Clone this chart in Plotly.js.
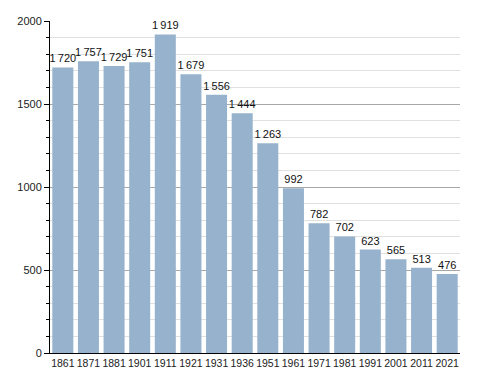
<!DOCTYPE html>
<html>
<head>
<meta charset="utf-8">
<script src="https://cdn.plot.ly/plotly-3.0.1.min.js"></script>
<style>
html,body{margin:0;padding:0;background:#fff;}
#chart{width:488px;height:373px;}
</style>
</head>
<body>
<div id="chart"></div>
<script>
const years = ['1861','1871','1881','1901','1911','1921','1931','1936','1951','1961','1971','1981','1991','2001','2011','2021'];
const population = [1720,1757,1729,1751,1919,1679,1556,1444,1263,992,782,702,623,565,513,476];

function fmt(v){
  const s = String(v);
  return s.length > 3 ? s.slice(0, s.length-3) + '\u2009' + s.slice(-3) : s;
}

const trace = {
  type: 'bar',
  x: years,
  y: population,
  text: population.map(fmt),
  textposition: 'outside',
  constraintext: 'none',
  cliponaxis: false,
  textfont: {family: 'Liberation Sans, Arial, sans-serif', size: 11, color: '#111'},
  marker: {color: '#97b2cc', line: {width: 0}},
  hoverinfo: 'none'
};

const layout = {
  width: 488,
  height: 373,
  margin: {l: 50, r: 28, t: 21, b: 20},
  paper_bgcolor: '#fff',
  plot_bgcolor: '#fff',
  bargap: 0.18,
  showlegend: false,
  font: {family: 'Liberation Sans, Arial, sans-serif', size: 11, color: '#222'},
  xaxis: {
    type: 'category',
    showline: true,
    linecolor: '#000',
    linewidth: 1,
    ticks: '',
    tickangle: 0,
    showgrid: false,
    tickfont: {size: 10.5, color: '#222'},
    fixedrange: true
  },
  yaxis: {
    range: [0, 2000],
    tickvals: [0, 500, 1000, 1500, 2000],
    ticktext: ['0', '500', '1000', '1500', '2000'],
    showline: true,
    linecolor: '#000',
    linewidth: 1,
    ticks: 'outside',
    ticklen: 5,
    tickcolor: '#000',
    showgrid: true,
    gridcolor: '#a8a8a8',
    gridwidth: 1,
    zeroline: false,
    tickfont: {size: 11, color: '#222'},
    minor: {dtick: 100, tick0: 0, showgrid: true, gridcolor: '#e0e0e0', gridwidth: 1, ticks: 'outside', ticklen: 3, tickcolor: '#000'},
    fixedrange: true
  }
};

Plotly.newPlot('chart', [trace], layout, {displayModeBar: false, staticPlot: true});
</script>
</body>
</html>
